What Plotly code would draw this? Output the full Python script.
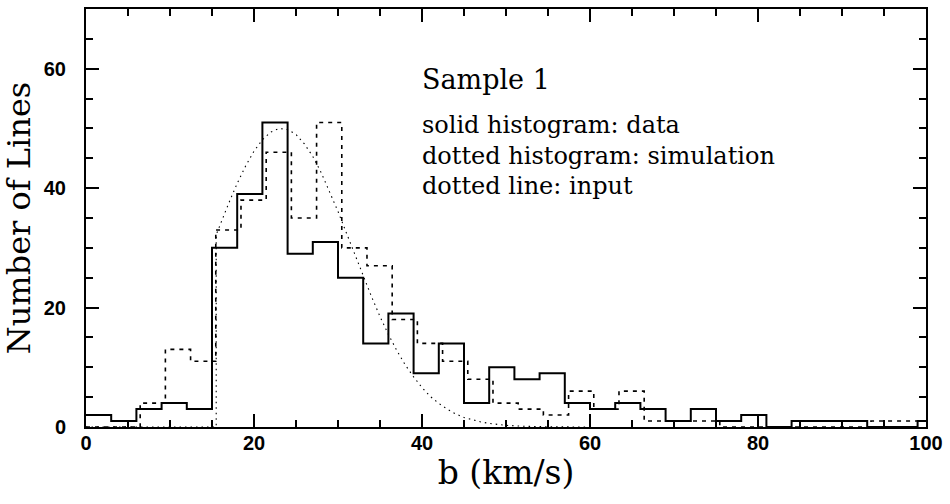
import plotly.graph_objects as go

# ---- data ----
bin_width = 3.0
# solid histogram (data): bins start at 0, width 3
data_counts = [2, 1, 3, 4, 3, 30, 39, 51, 29, 31, 25, 14, 19, 9, 14, 4, 10, 8,
               9, 4, 3, 4, 3, 1, 3, 1, 2, 0, 1, 1, 1, 0, 0, 1]
data_start = 0.0
# dotted histogram (simulation): bins start at 0.45, width 3
sim_counts = [0, 0, 4, 13, 11, 33, 38, 46, 35, 51, 30, 27, 18, 14, 11, 8, 4, 3,
              2, 6, 3, 6, 1, 1, 1, 0, 0, 0, 0, 0, 0, 1, 1, 1]
sim_start = 0.45
# dotted line (input distribution)
input_b = [0, 15.5, 15.5, 16, 17, 18, 19, 20, 21, 22, 23, 24, 25, 26, 27, 28, 29,
           30, 31, 32, 33, 34, 35, 36, 37, 38, 39, 40, 41, 42, 43, 44, 45, 46,
           47, 48, 49, 50, 52, 55, 60]
input_n = [0, 0, 32.2, 34.0, 37.5, 40.8, 43.7, 46.2, 48.1, 49.4, 50.0, 49.8, 49.0,
           47.4, 45.3, 42.6, 39.5, 36.1, 32.5, 28.9, 25.3, 21.8, 18.5, 15.5, 12.8,
           10.4, 8.4, 6.6, 5.1, 3.95, 3.0, 2.2, 1.6, 1.2, 0.85, 0.6, 0.42, 0.28,
           0.13, 0.03, 0.0]

x_ticks = [0, 20, 40, 60, 80, 100]
y_ticks = [0, 20, 40, 60]
x_range = [0, 100]
y_range = [0, 70]

label_title = "Sample 1"
label_lines = ["solid histogram: data", "dotted histogram: simulation", "dotted line: input"]


def step_xy(start, counts, width, xmax):
    xs = [start + i * width for i in range(len(counts))]
    ys = list(counts)
    xs.append(xmax)
    ys.append(counts[-1])
    if start > 0:
        xs = [0] + xs
        ys = [0] + ys
    return xs, ys


fig = go.Figure()

sx, sy = step_xy(sim_start, sim_counts, bin_width, x_range[1])
fig.add_trace(go.Scatter(x=sx, y=sy, mode="lines", line_shape="hv",
                         line=dict(color="black", width=1.6, dash="4px,5px"),
                         hoverinfo="skip", showlegend=False))

fig.add_trace(go.Scatter(x=input_b, y=input_n, mode="lines", line_shape="linear",
                         line=dict(color="black", width=1.1, dash="1.5px,4px"),
                         hoverinfo="skip", showlegend=False))

dx, dy = step_xy(data_start, data_counts, bin_width, x_range[1])
fig.add_trace(go.Scatter(x=dx, y=dy, mode="lines", line_shape="hv",
                         line=dict(color="black", width=2),
                         hoverinfo="skip", showlegend=False))

serif = "DejaVu Serif"
fig.add_annotation(x=39.8, y=58.2, xref="x", yref="y", text=label_title,
                   showarrow=False, xanchor="left", yanchor="middle",
                   font=dict(family=serif, size=27, color="black"))
for i, t in enumerate(label_lines):
    fig.add_annotation(x=39.8, y=50.5 - i * 5.1, xref="x", yref="y", text=t,
                       showarrow=False, xanchor="left", yanchor="middle",
                       font=dict(family=serif, size=24, color="black"))

tickfont = dict(family="Liberation Sans", size=20, color="black", weight="bold")
axis_common = dict(showline=True, linecolor="black", linewidth=2, mirror="ticks",
                   ticks="inside", ticklen=13, tickwidth=1.5, tickcolor="black",
                   showgrid=False, zeroline=False, tickfont=tickfont)

fig.update_xaxes(range=x_range, tickvals=x_ticks, ticktext=[str(v) for v in x_ticks],
                 minor=dict(ticks="inside", ticklen=7, dtick=5, tickwidth=1.5,
                            tickcolor="black", showgrid=False),
                 title=dict(text="b (km/s)", font=dict(family=serif, size=33, color="black"),
                            standoff=8),
                 ticklabelstandoff=-3,
                 **axis_common)
fig.update_yaxes(range=y_range, tickvals=y_ticks, ticktext=[str(v) for v in y_ticks],
                 minor=dict(ticks="inside", ticklen=7, dtick=5, tickwidth=1.5,
                            tickcolor="black", showgrid=False),
                 title=dict(text="Number of Lines", font=dict(family=serif, size=32, color="black"),
                            standoff=8),
                 ticklabelstandoff=14,
                 **axis_common)

fig.update_layout(width=950, height=504, margin=dict(l=86, r=22, t=7, b=77),
                  plot_bgcolor="white", paper_bgcolor="white")

fig.write_html("out.html")
